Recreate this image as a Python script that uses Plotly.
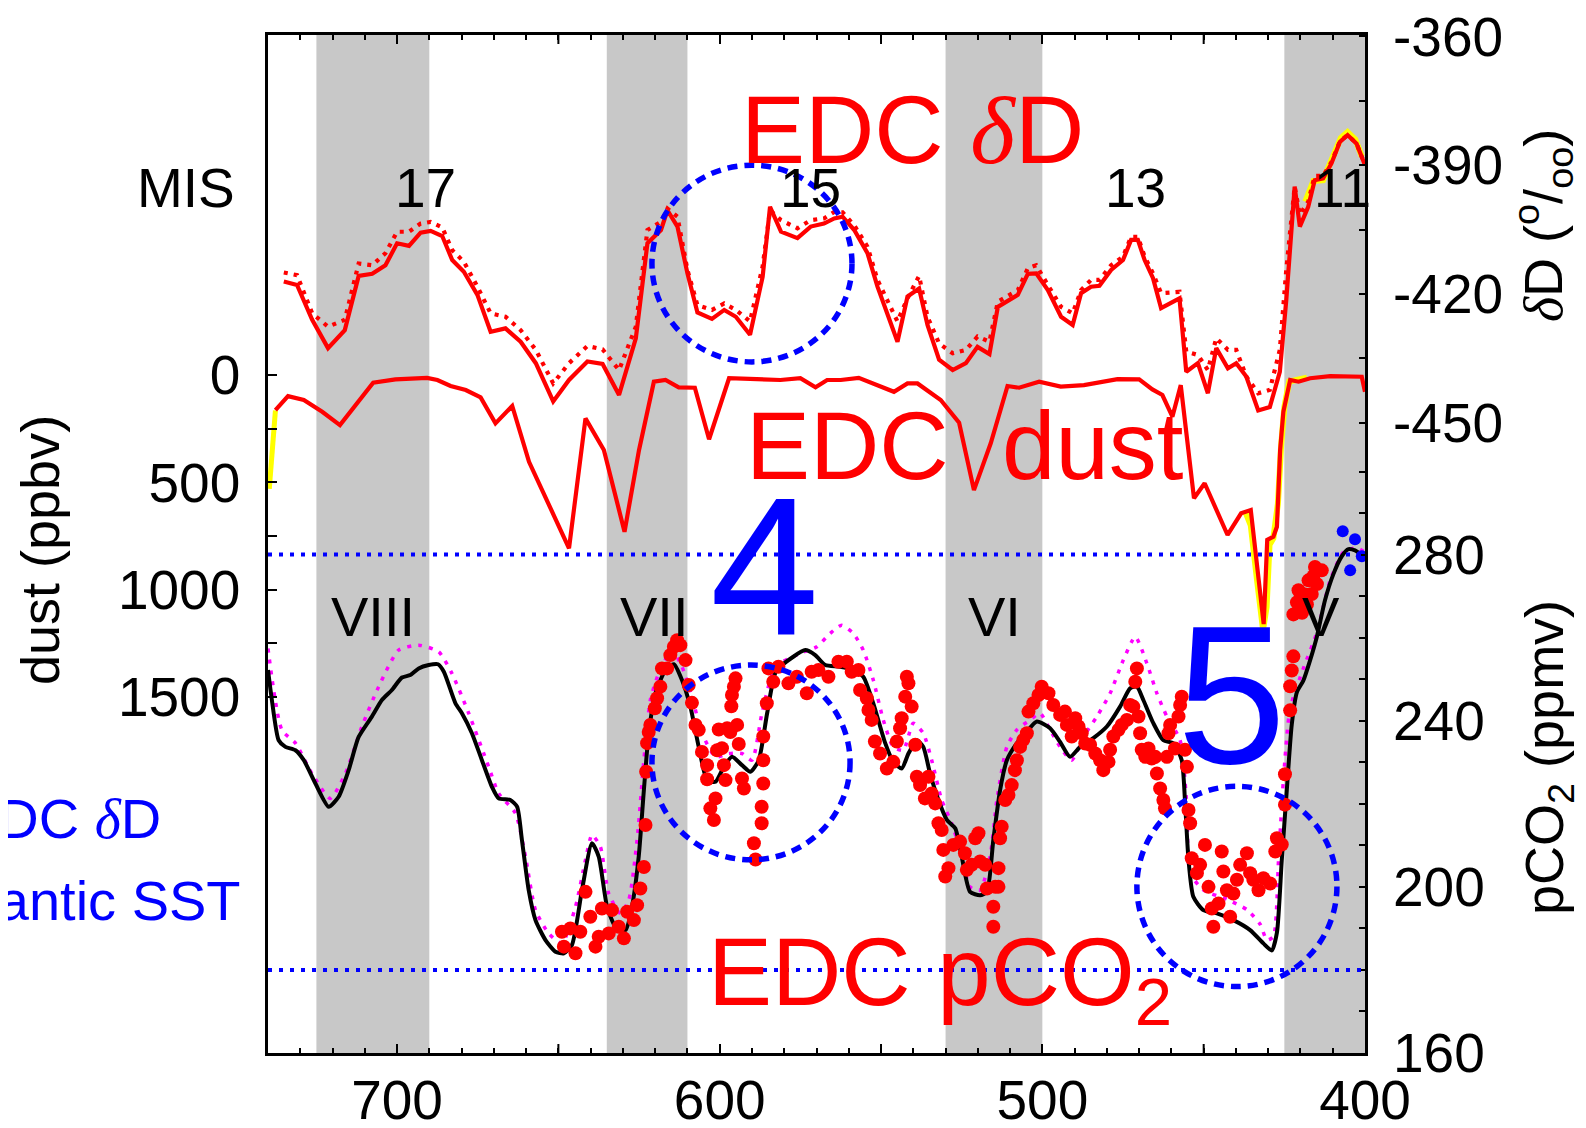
import plotly.graph_objects as go

# ---------------- data ----------------
dD_age = [735.1,731.0,726.3,721.4,716.2,711.9,707.7,703.6,700.0,696.3,692.7,689.6,686.0,682.9,679.3,675.1,671.0,666.4,661.7,657.0,
          651.6,646.7,641.0,636.3,631.2,626.0,622.4,618.2,616.2,613.1,610.0,606.9,602.4,598.6,595.0,590.6,586.7,584.4,581.0,575.9,
          571.8,567.7,564.5,561.9,558.3,554.2,551.1,544.9,541.8,538.2,535.6,532.0,527.8,523.7,520.1,516.4,513.8,507.6,504.5,501.9,
          498.3,494.2,490.6,488.0,484.9,482.3,478.7,475.0,472.5,470.4,468.3,465.7,463.2,457.5,455.4,451.8,448.7,446.1,442.5,439.9,
          436.8,433.1,429.5,426.4,424.4,421.8,420.2,417.6,415.6,413.0,410.4,407.8,405.4,402.6,400.0]
dD_solid = [-417.1,-417.9,-426.0,-432.6,-428.4,-415.8,-415.3,-413.3,-408.2,-408.8,-405.7,-405.3,-406.5,-412.1,-414.8,-420.2,-428.8,-428.0,-431.1,-436.1,
            -445.0,-440.0,-435.7,-436.3,-443.5,-430.3,-408.2,-405.1,-400.5,-404.3,-415.2,-424.3,-425.8,-423.7,-425.3,-429.5,-416.0,-399.7,-405.5,-407.0,
            -404.3,-403.6,-402.4,-402.0,-405.1,-410.5,-418.3,-431.1,-420.6,-418.7,-427.2,-435.3,-437.7,-436.1,-432.3,-434.0,-423.0,-420.2,-415.3,-415.2,
            -419.1,-425.3,-427.2,-419.8,-418.3,-418.1,-414.4,-412.1,-407.4,-407.4,-412.1,-416.3,-423.3,-421.0,-438.1,-436.1,-443.1,-432.6,-437.3,-436.1,
            -439.2,-447.1,-446.3,-438.1,-421.4,-395.0,-404.3,-399.7,-393.5,-393.1,-389.6,-384.6,-383.0,-385.0,-390.0]
dD_dotted = [-415.0,-415.6,-424.5,-427.6,-426.0,-412.9,-413.3,-410.5,-405.5,-405.5,-403.6,-403.2,-404.5,-409.8,-412.5,-418.3,-424.5,-425.3,-428.4,-433.0,
             -440.8,-436.1,-432.1,-432.9,-437.7,-427.6,-405.1,-403.2,-400.1,-402.0,-414.4,-422.6,-423.7,-422.2,-423.7,-426.4,-413.6,-400.5,-402.8,-404.7,
             -402.8,-402.4,-400.9,-401.0,-404.0,-409.0,-416.7,-426.4,-421.0,-415.8,-425.3,-431.5,-433.8,-433.0,-429.9,-431.1,-421.8,-419.1,-414.0,-413.3,
             -417.9,-423.0,-424.5,-419.1,-416.7,-416.7,-413.3,-411.3,-406.7,-406.7,-411.3,-415.2,-419.8,-419.5,-433.4,-434.2,-437.7,-430.3,-433.0,-433.0,
             -439.2,-443.1,-442.3,-433.0,-414.4,-395.0,-401.5,-398.5,-392.5,-392.5,-389.3,-384.5,-383.0,-385.0,-390.0]
dD_yellow_age = [418.5,416.0,413.0,410.0,407.5,405.4,403.0,401.0]
dD_yellow = [-398.5,-393.7,-393.5,-388.5,-383.7,-382.3,-384.0,-388.0]

dust_age = [737.7,733.8,728.9,723.2,717.7,712.4,707.4,700.5,690.7,687.5,683.4,678.7,674.1,669.5,664.3,659.1,654.0,646.7,641.6,635.9,
            629.5,625.0,620.4,616.8,612.7,607.7,603.3,597.1,581.2,575.0,570.3,566.7,562.5,556.9,546.0,541.8,538.7,531.5,525.8,521.2,
            516.0,510.8,507.2,501.0,494.3,487.1,476.7,470.0,465.9,462.8,459.7,457.1,453.0,449.7,442.6,438.4,435.4,431.4,430.3,428.4,
            427.3,426.3,425.3,423.2,420.6,417.0,410.8,404.6,401.0,400.0]
dust_val = [163,98,116,171,233,132,36,20,13,23,51,70,104,225,144,404,567,807,202,349,
            730,349,31,23,57,59,299,15,23,15,57,23,23,13,78,39,39,116,222,536,
            318,51,59,31,54,47,19,20,67,93,194,47,574,504,745,644,629,1160,768,753,
            707,349,171,23,31,15,5,5,8,78]
dust_yellow_age = [739.6,737.7]
dust_yellow = [530,165]
dust_yellow2_age = [437.0,435.4,433.5,431.6,430.5,429.6,428.4,427.0,426.0,425.0,423.5,421.0,418.0]
dust_yellow2 = [640,700,950,1185,1080,790,760,600,330,150,30,20,12]

co2_age = [740.0,738.8,736.7,734.6,731.5,728.9,725.3,721.2,718.1,715.0,711.9,707.8,704.7,701.6,698.5,695.9,693.3,690.2,687.3,685.5,
           681.9,679.9,676.8,673.7,670.6,668.5,664.9,662.8,661.3,659.2,657.1,654.0,650.9,648.3,645.8,642.7,639.6,637.5,634.9,632.3,
           629.2,627.2,625.1,623.5,622.0,619.9,616.8,614.2,611.7,609.1,606.5,603.9,601.3,598.7,596.2,593.1,590.5,587.9,585.3,582.5,
           577.2,573.5,570.4,567.3,562.7,558.6,555.5,552.4,548.7,546.2,543.6,541.5,538.9,536.9,534.8,532.2,529.6,527.0,525.0,522.4,
           519.3,517.2,515.2,513.1,511.0,507.9,504.8,501.7,497.6,494.5,491.4,488.3,484.2,480.0,475.9,472.8,470.7,468.7,465.6,462.5,
           459.4,456.8,455.7,454.7,453.2,450.1,445.9,440.8,435.6,431.5,428.9,427.3,425.8,424.2,422.7,421.1,419.1,417.0,414.9,412.4,
           409.8,407.2,405.1,403.1,400.5]
co2_line = [252.2,245.0,235.3,233.7,232.9,230.5,224.9,219.3,221.7,228.1,236.1,241.0,245.0,247.4,250.4,251.0,252.6,253.4,253.6,251.8,
            244.2,241.8,237.0,230.5,224.1,221.3,220.9,219.3,211.3,199.2,192.0,187.2,184.4,184.0,186.0,199.2,210.5,207.3,195.2,190.4,
            189.6,195.2,207.3,223.3,237.0,246.6,252.2,253.6,249.8,243.4,233.7,225.7,225.3,228.9,231.3,229.3,227.7,230.5,241.8,252.0,
            255.4,257.0,255.8,253.4,253.0,252.2,250.6,244.2,234.6,230.1,228.5,232.1,235.3,233.7,227.3,220.9,216.1,214.1,207.3,198.8,
            198.0,198.8,211.3,223.3,230.5,234.6,237.4,239.8,238.2,234.9,231.3,233.7,235.8,238.6,243.4,247.8,248.2,245.0,239.4,235.3,
            234.6,230.5,219.3,206.5,197.6,194.4,193.6,192.0,189.6,186.4,184.7,189.0,206.4,223.7,239.1,246.9,249.7,254.6,260.3,269.0,
            275.3,279.6,281.3,281.0,279.6]

mag_age = [740.0,735.7,731.5,726.4,720.7,716.0,710.9,705.7,699.5,693.3,687.1,683.0,677.8,671.6,668.5,663.3,660.2,657.1,653.0,648.9,
           644.7,641.6,639.6,637.0,634.4,630.8,628.2,625.6,623.5,621.5,618.9,614.8,611.7,608.6,605.5,601.3,597.2,593.1,590.0,586.9,
           582.7,575.1,569.9,565.8,562.2,558.6,555.5,552.4,549.3,546.2,543.1,540.0,536.9,534.3,531.2,528.1,525.5,522.4,519.3,516.2,
           514.1,511.0,507.9,503.8,500.7,497.6,494.5,490.9,487.3,483.1,479.0,474.9,471.2,467.6,464.5,461.4,457.3,455.2,454.2,450.0,
           442.8,436.6,432.5,430.4,428.4,426.8,425.3,423.2,419.1,414.9,410.8,406.7,402.5,400.0]
mag_val = [257.4,237.8,234.6,227.3,221.3,227.3,238.6,248.2,257.0,258.2,256.6,251.4,241.8,228.9,222.5,217.7,207.3,194.4,188.8,186.4,
           195.2,206.5,212.5,209.7,198.4,193.6,196.8,211.3,230.5,245.0,251.4,257.0,253.0,245.8,237.0,231.3,232.1,232.1,230.5,241.8,
           253.0,256.2,257.8,261.0,263.0,261.0,257.0,249.8,240.2,233.7,232.9,239.4,237.0,230.5,220.9,215.3,208.9,200.0,199.2,207.3,
           220.9,233.7,237.8,240.2,241.8,237.8,233.7,230.5,236.1,241.0,246.6,254.6,260.2,253.8,246.6,241.0,235.3,219.3,203.3,199.2,
           197.0,194.5,191.0,187.2,188.0,206.4,225.6,243.0,252.6,261.3,273.8,280.6,281.6,280.6]

dot_age = [648.9,646.3,648.3,644.7,643.2,641.6,640.1,638.5,637.5,636.5,634.4,633.4,631.3,629.7,628.7,626.6,625.6,624.6,623.5,623.0,
           622.8,622.5,622.0,621.5,620.1,619.4,618.4,617.9,616.3,615.3,614.2,613.2,612.2,610.6,609.6,608.6,607.5,606.5,605.5,603.9,
           603.9,602.9,601.8,601.3,600.8,600.3,599.3,598.7,598.2,597.7,596.7,596.4,596.2,595.6,595.1,594.6,594.1,593.1,592.5,589.4,
           588.9,
           586.5,586.5,586.5,587.0,587.0,585.4,584.9,583.4,581.8,578.7,576.1,573.0,571.5,569.4,566.3,563.2,560.6,559.1,557.0,556.5,
           554.4,553.9,552.9,551.9,550.3,548.2,546.2,545.1,544.1,543.6,542.5,542.0,541.5,540.5,539.4,538.9,537.9,536.4,535.3,534.3,
           533.2,532.2,531.2,530.7,529.1,530.1,527.6,525.5,524.0,523.4,521.9,520.8,519.8,519.3,517.7,517.2,515.2,515.2,514.6,513.6,
           513.6,513.1,512.6,511.5,510.5,509.5,508.5,507.9,506.9,505.9,504.8,504.3,502.8,501.2,500.2,498.1,496.6,494.5,493.0,492.4,
           490.9,489.8,488.8,487.8,486.7,485.2,483.6,482.1,481.1,479.5,479.0,478.0,476.4,475.4,473.8,472.8,471.8,471.2,470.7,470.2,
           469.7,469.2,468.1,467.1,466.1,465.0,464.5,463.5,462.5,462.0,461.4,460.9,460.4,458.9,457.8,457.3,456.8,455.8,455.2,454.7,
           454.2,453.7,452.1,451.1,449.6,448.5,447.5,447.0,445.4,444.4,443.9,442.8,441.8,440.8,439.7,438.7,436.6,435.6,434.6,433.0,
           431.5,429.4,427.8,427.3,
           425.8,424.8,424.8,423.2,423.2,422.7,422.2,422.2,421.1,420.6,419.5,418.5,418.0,417.5,416.5,416.0,415.5,414.9,413.4]
dot_val = [189.2,190.0,185.6,184.0,189.2,198.8,192.8,185.6,188.0,194.8,188.8,194.4,190.4,187.6,194.0,192.0,195.6,199.6,204.8,214.9,
           227.7,234.6,237.3,239.0,243.0,245.4,248.2,252.6,252.6,255.8,257.8,259.4,258.2,254.6,248.6,244.3,239.0,237.8,232.5,229.3,
           225.9,218.9,216.1,221.3,232.9,237.9,233.4,229.3,225.7,238.2,237.3,243.5,246.2,248.2,250.2,239.0,234.4,226.1,223.7,210.5,
           206.6,
           236.2,230.5,224.9,219.3,215.3,244.2,252.6,249.4,253.0,249.0,250.6,246.6,251.8,252.2,250.6,254.2,254.2,251.8,252.2,247.4,
           245.4,242.6,240.2,235.0,232.1,228.5,230.1,235.0,238.2,240.6,245.8,250.6,249.0,243.4,234.2,226.5,224.5,221.3,226.5,222.5,
           220.1,215.3,213.7,208.9,204.5,202.5,210.1,210.9,208.1,204.1,205.3,211.7,212.9,206.1,205.3,199.6,195.2,190.4,200.0,200.0,
           204.5,211.7,214.5,220.9,222.1,224.5,228.1,230.5,233.7,235.4,237.0,242.2,244.2,246.2,248.2,246.6,243.8,241.4,242.2,239.0,
           236.2,240.6,238.6,237.0,234.5,234.2,232.1,230.5,228.1,230.1,233.0,236.2,237.8,239.0,240.2,243.8,243.4,249.4,252.6,241.0,
           237.0,233.0,231.3,233.3,230.9,231.3,227.3,223.7,220.9,218.9,231.3,237.0,239.0,233.3,241.0,243.8,245.8,233.0,228.9,218.5,
           215.3,206.9,203.3,205.3,210.1,200.0,194.8,190.4,196.0,208.5,203.7,199.2,192.8,198.4,201.7,205.3,208.1,203.3,201.7,199.2,
           202.1,200.8,208.5,211.7,
           210.2,219.8,227.1,242.5,248.3,252.1,255.5,265.6,268.5,271.4,266.0,270.4,268.0,273.8,270.5,274.8,277.0,272.9,276.2]

blue_age = [406.9,403.1,401.0,404.6]
blue_val = [285.6,283.7,279.6,276.2]

glacial_bands = [(725, 690), (635, 610), (530, 500), (425, 400)]
mis_labels = [("17", 691.3), ("15", 572.0), ("13", 471.2), ("11", 407.0)]
term_labels = [("VIII", 707.6), ("VII", 620.3), ("VI", 514.9), ("V", 413.5)]
ref_co2 = [280, 180]
x_ticks = [700, 600, 500, 400]
x_half_ticks = [650, 550, 450]
dust_ticks = [0, 500, 1000, 1500]
dust_minor = [250, 750, 1250]
dD_ticks = [-360, -390, -420, -450]
dD_tick_text = ["-360", "-390", "-420", "-450"]
dD_minor = [-375, -405, -435]
co2_ticks = [160, 200, 240, 280]
co2_minor = [170, 180, 190, 210, 220, 230, 250, 260, 270, 290, 300]
# dotted circles: (x0, x1, y0, y1, axis)
circles = [(621.0, 559.0, -435.8, -390.0, "y2"),
           (621.0, 559.6, 206.5, 253.4, "y3"),
           (470.7, 408.7, 176.0, 224.2, "y3")]

# ---------------- figure geometry ----------------
OFF = 8                      # page body margin around the figure
W, H = 1586 - 2 * OFF, 1128 - 2 * OFF
PL, PT, PW, PH = 268, 35, 1097, 1018   # plot box position on the page
L, T = PL - OFF, PT - OFF
R, B = W - L - PW, H - T - PH
FONT = "Liberation Sans, Arial, sans-serif"
RED, BLUE, MAG, YEL = "#ff0000", "#0000ff", "#ff00ff", "#ffff00"


def px(x):
    return (x - PL) / PW


def py(y):
    return (PT + PH - y) / PH


fig = go.Figure()

fig.add_trace(go.Scatter(x=dust_yellow_age, y=dust_yellow, mode="lines", line=dict(color=YEL, width=5), yaxis="y"))
fig.add_trace(go.Scatter(x=dust_yellow2_age, y=dust_yellow2, mode="lines", line=dict(color=YEL, width=6), yaxis="y"))
fig.add_trace(go.Scatter(x=dust_age, y=dust_val, mode="lines", line=dict(color=RED, width=4.2), yaxis="y"))
fig.add_trace(go.Scatter(x=dD_yellow_age, y=dD_yellow, mode="lines", line=dict(color=YEL, width=6), yaxis="y2"))
fig.add_trace(go.Scatter(x=dD_age, y=dD_dotted, mode="lines", line=dict(color=RED, width=4.2, dash="4px,6px"), yaxis="y2"))
fig.add_trace(go.Scatter(x=dD_age, y=dD_solid, mode="lines", line=dict(color=RED, width=4.2), yaxis="y2"))
fig.add_trace(go.Scatter(x=mag_age, y=mag_val, mode="lines",
                         line=dict(color=MAG, width=3.5, dash="4px,7px", shape="spline", smoothing=0.6), yaxis="y3"))
fig.add_trace(go.Scatter(x=co2_age, y=co2_line, mode="lines",
                         line=dict(color="black", width=4, shape="spline", smoothing=0.6), yaxis="y3"))
fig.add_trace(go.Scatter(x=dot_age, y=dot_val, mode="markers", marker=dict(color=RED, size=14, line=dict(width=0)), yaxis="y3"))
fig.add_trace(go.Scatter(x=blue_age, y=blue_val, mode="markers", marker=dict(color=BLUE, size=12, line=dict(width=0)), yaxis="y3"))

shapes = []
for a0, a1 in glacial_bands:
    shapes.append(dict(type="rect", xref="x", yref="paper", x0=a0, x1=a1, y0=0, y1=1,
                       fillcolor="#c8c8c8", line=dict(width=0), layer="below"))
for v in x_half_ticks:
    for y0, y1 in ((0, 9 / PH), (1 - 9 / PH, 1)):
        shapes.append(dict(type="line", xref="x", yref="paper", x0=v, x1=v, y0=y0, y1=y1,
                           line=dict(color="black", width=2), layer="above"))
for v in ref_co2:
    shapes.append(dict(type="line", xref="paper", yref="y3", x0=0, x1=1, y0=v, y1=v,
                       line=dict(color=BLUE, width=4, dash="4px,7px"), layer="above"))
for x0, x1, y0, y1, ax in circles:
    shapes.append(dict(type="circle", xref="x", yref=ax, x0=x0, x1=x1, y0=y0, y1=y1,
                       line=dict(color=BLUE, width=5.5, dash="10px,7px"), layer="above"))

ann = []


def txt(text, x, y, size, color="black", xref="paper", xanchor="center", yanchor="middle", angle=0):
    ann.append(dict(text=text, x=x, y=y, xref=xref, yref="paper", showarrow=False,
                    font=dict(family=FONT, size=size, color=color), xanchor=xanchor, yanchor=yanchor,
                    textangle=angle))


txt("MIS", px(186), py(188), 55)
for lab, age in mis_labels:
    txt(lab, age, py(188), 55, xref="x")
for lab, age in term_labels:
    txt(lab, age, py(616), 56, xref="x")

delta = "<span style=\"font-family:'Liberation Serif'\"><i>δ</i></span>"
txt("EDC " + delta + "D", px(912), py(130), 96, RED)
txt("EDC\u00a0\u00a0dust", px(964), py(446), 96, RED)
txt("EDC pCO<sub>2</sub>", px(706), py(978), 96, RED, xanchor="left")
txt("4", px(764), py(568), 196, BLUE)
txt("5", px(1231), py(695), 196, BLUE)
txt("EDC " + delta + "D", px(163), py(818), 56, BLUE, xanchor="right")
txt("N. Atlantic SST", px(243), py(900), 56, BLUE, xanchor="right")

txt("dust (ppbv)", px(40), py(550), 54, angle=-90)
txt(delta + "D (<sup>o</sup>/<sub>oo</sub>)", px(1543), py(226), 54, angle=-90)
txt("pCO<sub>2</sub> (ppmv)", px(1548), py(758), 54, angle=-90)

tickfont = dict(family=FONT, size=55, color="black")
common = dict(showgrid=False, zeroline=False, automargin=False, tickfont=tickfont, tickcolor="black",
              ticklabeloverflow="allow")

fig.update_layout(
    width=W, height=H, margin=dict(l=L, r=R, t=T, b=B, pad=0, autoexpand=False),
    paper_bgcolor="white", plot_bgcolor="white", showlegend=False,
    shapes=shapes, annotations=ann,
    xaxis=dict(range=[740, 400], tickmode="array", tickvals=x_ticks,
               ticks="inside", ticklen=9, tickwidth=2,
               minor=dict(tickmode="linear", tick0=400, dtick=10, ticks="inside", ticklen=5, tickwidth=2, tickcolor="black"),
               showline=True, linewidth=2.5, linecolor="black", mirror="ticks", ticklabelstandoff=-3, **common),
    yaxis=dict(range=[3158, -1584], tickmode="array", tickvals=dust_ticks,
               ticks="inside", ticklen=9, tickwidth=2,
               minor=dict(tickmode="array", tickvals=dust_minor, ticks="inside", ticklen=9, tickwidth=2, tickcolor="black"),
               showline=True, linewidth=2.5, linecolor="black", mirror=True, ticklabelstandoff=14, **common),
    yaxis2=dict(range=[-596.7, -359.7], overlaying="y", side="right", tickmode="array", tickvals=dD_ticks,
                ticktext=dD_tick_text,
                ticks="inside", ticklen=6, tickwidth=2,
                minor=dict(tickmode="array", tickvals=dD_minor, ticks="inside", ticklen=6, tickwidth=2, tickcolor="black"),
                showline=False, ticklabelstandoff=27, **common),
    yaxis3=dict(range=[160, 405.1], overlaying="y", side="right", tickmode="array", tickvals=co2_ticks,
                ticks="inside", ticklen=6, tickwidth=2,
                minor=dict(tickmode="array", tickvals=co2_minor, ticks="inside", ticklen=6, tickwidth=2, tickcolor="black"),
                showline=False, ticklabelstandoff=27, **common),
)

fig.write_html("out.html")
